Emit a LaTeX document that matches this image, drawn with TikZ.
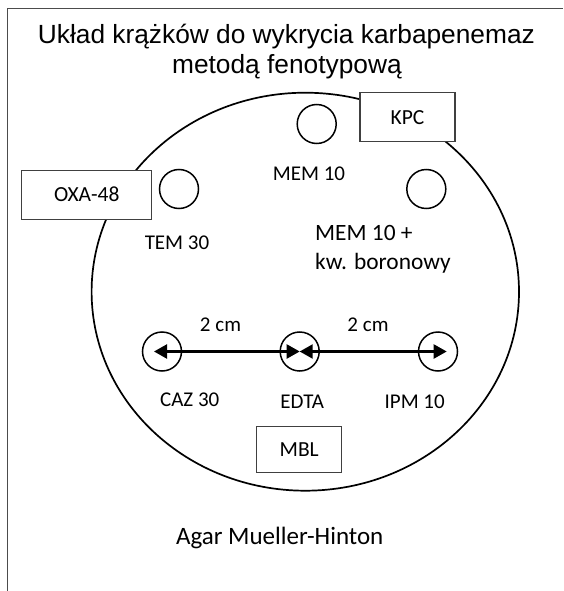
\documentclass[tikz,border=0pt]{standalone}
\usepackage{fontspec}
\setmainfont{Carlito}
\newfontfamily\titlefont{Liberation Sans}
\usetikzlibrary{arrows.meta}

\tikzset{
	disc/.style={draw, circle, line width=1.5pt, minimum size=39pt, inner sep=0pt},
	tag/.style={draw=black!75, fill=white, line width=1.1pt, inner sep=0pt, font=\fontsize{21.5}{25}\selectfont},
	lbl/.style={inner sep=0pt, font=\fontsize{21}{25}\selectfont},
	distarrow/.style={line width=2.2pt, >={Triangle[length=13pt,width=14pt]}, <->}
}

\begin{document}
\begin{tikzpicture}[x=1pt,y=-1pt]
		\useasboundingbox (0,0) rectangle (563,591);
		\draw[black!70, line width=1pt] (7.3,591) -- (7.3,8.3) -- (563,8.3);
		
		\node[anchor=base, inner sep=0pt, font=\titlefont\fontsize{26.3}{31}\selectfont] (title) at (286.4,43.3) {Układ krążków do wykrycia karbapenemaz};
		\node[anchor=base, inner sep=0pt, font=\titlefont\fontsize{26.3}{31}\selectfont] (subtitle) at (286.9,74) {metodą fenotypową};
		
		\draw[line width=1.7pt] (305.3,291.7) ellipse [x radius=213.7, y radius=199];
		
			\foreach \Name/\X/\Y in {
			mem/316.7/124, tem/179/189, memkb/426.3/189, caz/162/351.5, edta/299.7/351.5, ipm/438/351.5
			}{
				\node[disc] (\Name) at (\X,\Y) {};
			};
		
		\node[tag, minimum width=95pt, minimum height=49pt] (kpc) at (407.5,117.2) {KPC};
		\node[tag, minimum width=130pt, minimum height=49pt] (oxa) at (86.7,194.7) {OXA-48};
		\node[tag, minimum width=85pt, minimum height=46pt] (mbl) at (299.2,449.2) {MBL};
		
			\foreach \Name/\X/\Y/\Text in {
			memlbl/309/174/MEM 10, temlbl/177/242.7/TEM 30, cazlbl/189.7/399.3/CAZ 30,
			edtalbl/302.3/401.7/EDTA, ipmlbl/414.7/401.7/IPM 10, cmleft/220.5/325/2 cm, cmright/368/325/2 cm
			}{
				\node[lbl] (\Name) at (\X,\Y) {\Text};
			};
		\node[lbl, font=\fontsize{23.4}{29}\selectfont, anchor=west, align=left] (memkblbl) at (315,249.5) {MEM 10 +\\kw. boronowy};
		
		\draw[distarrow, shorten <=-8pt] (caz.center) -- (edta.center);
		\draw[distarrow, shorten >=-8.7pt] (edta.center) -- (ipm.center);
		
		\node[anchor=base, inner sep=0pt, font=\fontsize{25}{30}\selectfont] (agar) at (279.7,544) {Agar Mueller-Hinton};
		
		\end{tikzpicture}
\end{document}
